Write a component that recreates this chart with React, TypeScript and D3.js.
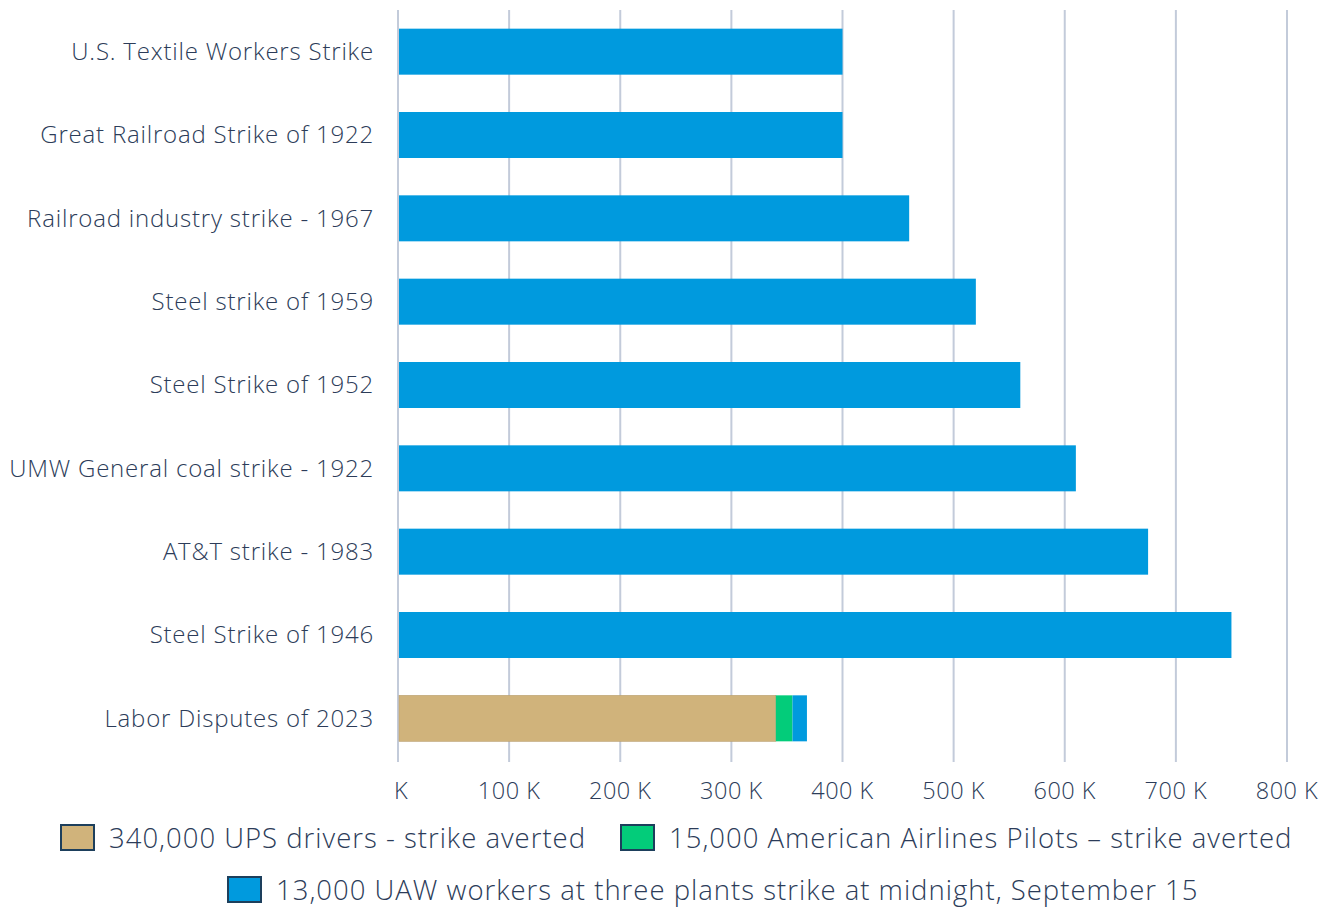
import React from 'react';
import * as d3 from 'd3';

// categories top to bottom
const categories = [
  'U.S. Textile Workers Strike',
  'Great Railroad Strike of 1922',
  'Railroad industry strike - 1967',
  'Steel strike of 1959',
  'Steel Strike of 1952',
  'UMW General coal strike - 1922',
  'AT&T strike - 1983',
  'Steel Strike of 1946',
  'Labor Disputes of 2023',
];

// historical strikes (workers)
const historicValues = [400000, 400000, 460000, 520000, 560000, 610000, 675000, 750000, 0];

// 2023 stacked pieces
const seriesNames = [
  '340,000 UPS drivers - strike averted',
  '15,000 American Airlines Pilots – strike averted',
  '13,000 UAW workers at three plants strike at midnight, September 15',
];
const seriesValues2023 = [340000, 15000, 13000];
const seriesColors = ['#d0b37b', '#03cc7a', '#009ade'];

const xTicks = [0, 100000, 200000, 300000, 400000, 500000, 600000, 700000, 800000];

const W = 1335;
const H = 907;
const FONT = '"Open Sans", Lato, sans-serif';
const TEXT = '#2c3c59';

const App = () => {
  const x = d3.scaleLinear().domain([0, 800000]).range([398, 1287]);
  const y = d3.scaleBand<string>().domain(categories).range([10, 760]).paddingInner(0.448).paddingOuter(0.224);

  const stackData = [{ a: seriesValues2023[0], b: seriesValues2023[1], c: seriesValues2023[2] }];
  const stacked = d3.stack<any>().keys(['a', 'b', 'c'])(stackData);
  const lastCat = categories[categories.length - 1];

  const fmt = (d: number) => (d === 0 ? 'K' : `${d / 1000} K`);

  return (
    <svg width={W} height={H} style={{ position: 'absolute', left: 0, top: 0, background: '#fff' }}>
      <g>
        {xTicks.map((t) => (
          <line key={t} x1={x(t)} x2={x(t)} y1={10} y2={762} stroke="#c3cbda" strokeWidth={2} />
        ))}
      </g>
      <g>
        {categories.map((c, i) =>
          historicValues[i] > 0 ? (
            <rect key={c} x={x(0) + 1} y={y(c)} width={x(historicValues[i]) - x(0) - 1} height={y.bandwidth()} fill="#009ade" />
          ) : null
        )}
        {stacked.map((s, i) => (
          <rect
            key={s.key}
            x={x(s[0][0]) + (i === 0 ? 1 : 0)}
            y={y(lastCat)}
            width={x(s[0][1]) - x(s[0][0]) - (i === 0 ? 1 : 0)}
            height={y.bandwidth()}
            fill={seriesColors[i]}
            stroke={i === 0 ? '#b9a070' : 'none'}
            strokeWidth={i === 0 ? 0.6 : 0}
          />
        ))}
      </g>
      <g fontFamily={FONT} fontSize={24} fontWeight={300} letterSpacing={0.8} fill={TEXT}>
        {categories.map((c) => (
          <text key={c} x={374} y={(y(c) as number) + y.bandwidth() / 2} dy="0.35em" textAnchor="end">
            {c}
          </text>
        ))}
      </g>
      <g fontFamily={FONT} fontSize={23.5} fontWeight={300} letterSpacing={0.5} fill={TEXT}>
        {xTicks.map((t) => (
          <text key={t} x={x(t) + (t === 0 ? 3 : 0)} y={799} textAnchor="middle">
            {fmt(t)}
          </text>
        ))}
      </g>
      <g fontFamily={FONT} fontSize={27.5} fontWeight={300} letterSpacing={1} fill={TEXT}>
        {[
          { i: 0, sx: 61, sy: 825 },
          { i: 1, sx: 621, sy: 825 },
          { i: 2, sx: 228, sy: 877 },
        ].map(({ i, sx, sy }) => (
          <g key={i}>
            <rect x={sx} y={sy} width={33} height={25} fill={seriesColors[i]} stroke="#1d3f5c" strokeWidth={2} />
            <text x={sx + 48} y={sy + 13} dy="0.35em">
              {seriesNames[i]}
            </text>
          </g>
        ))}
      </g>
    </svg>
  );
};

export default App;
